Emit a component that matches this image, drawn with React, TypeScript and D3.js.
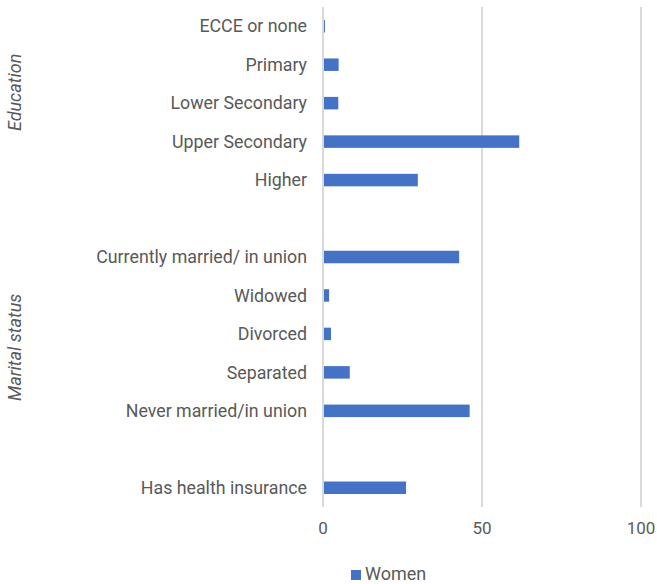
import React from "react";
import * as d3 from "d3";

const categories = [
  "ECCE or none",
  "Primary",
  "Lower Secondary",
  "Upper Secondary",
  "Higher",
  "",
  "Currently married/ in union",
  "Widowed",
  "Divorced",
  "Separated",
  "Never married/in union",
  " ",
  "Has health insurance",
];
const women = [0.3, 4.6, 4.5, 61.4, 29.5, null, 42.5, 1.6, 2.2, 8.1, 45.8, null, 25.8];
const xTicks = [0, 50, 100];
const groupLabels = ["Education", "Marital status"];
const groupCenters = [1.72, 8.35];
const seriesName = "Women";

const W = 657;
const H = 584;
const FONT = "Roboto, 'Open Sans', sans-serif";
const TXT = "#595959";
const BAR = "#4472C4";

export default function App() {
  const x = d3.scaleLinear().domain([0, 100]).range([323, 641]);
  const y = d3.scaleBand().domain(categories).range([7, 507]).paddingInner(0.675).paddingOuter(0.3375);
  const rowY = (i: number) => (y(categories[0]) as number) + y.bandwidth() / 2 + i * y.step();
  return (
    <svg width={W} height={H} style={{ position: "absolute", left: 0, top: 0, background: "#fff" }}>
      {xTicks.map((t) => (
        <g key={t}>
          <line x1={x(t)} x2={x(t)} y1={7} y2={507} stroke="#D9D9D9" strokeWidth={2} />
          <text x={x(t)} y={533.5} textAnchor="middle" fontFamily={FONT} fontSize={17} fill={TXT}>
            {t}
          </text>
        </g>
      ))}
      {categories.map((c, i) => {
        const v = women[i];
        const cy = (y(c) as number) + y.bandwidth() / 2;
        return (
          <g key={i}>
            {c.trim() && (
              <text x={307} y={cy} dy="0.35em" textAnchor="end" fontFamily={FONT} fontSize={17.8} fill={TXT}>
                {c}
              </text>
            )}
            {v != null && (
              <rect
                x={x(0) + 1}
                y={y(c) as number}
                width={Math.max(0, x(v) - x(0))}
                height={y.bandwidth()}
                fill={BAR}
              />
            )}
          </g>
        );
      })}
      {groupLabels.map((g, i) => (
        <text
          key={g}
          transform={`translate(21,${rowY(groupCenters[i])}) rotate(-90)`}
          textAnchor="middle"
          fontFamily={FONT}
          fontSize={18}
          fontStyle="italic"
          fill={TXT}
        >
          {g}
        </text>
      ))}
      <rect x={351} y={570} width={10} height={10} fill={BAR} />
      <text x={365} y={580} fontFamily={FONT} fontSize={18} fill={TXT}>
        {seriesName}
      </text>
    </svg>
  );
}
